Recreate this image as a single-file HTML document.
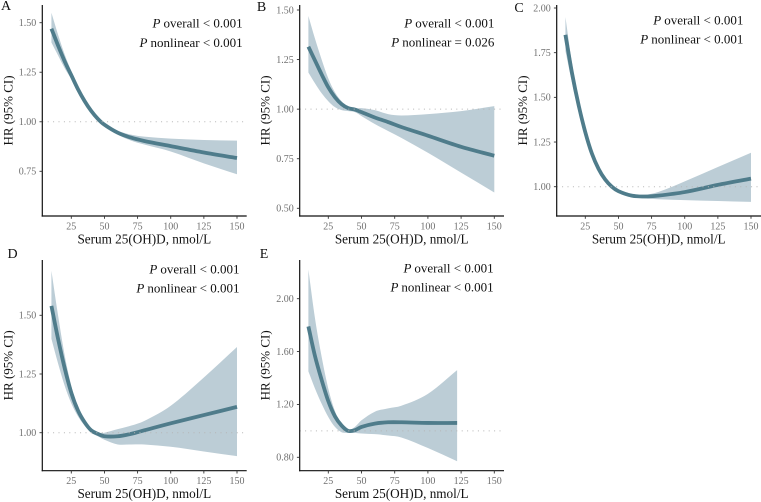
<!DOCTYPE html>
<html lang="en">
<head>
<meta charset="utf-8">
<title>Restricted cubic spline panels: HR by serum 25(OH)D</title>
<style>
  html, body { margin: 0; padding: 0; background: #fff; }
  body { width: 761px; height: 502px; overflow: hidden; }
  svg { display: block; }
  text { font-family: "Liberation Serif", serif; }
</style>
</head>
<body>
<svg id="figure" width="761" height="502" viewBox="0 0 761 502" xmlns="http://www.w3.org/2000/svg"></svg>
<script>
const xTicks = [25, 50, 75, 100, 125, 150];
const gridX = [10, 15, 20, 25, 30, 35, 40, 45, 50, 60, 70, 80, 100, 125, 150];
const gridXE = [10, 15, 20, 25, 30, 35, 40, 45, 50, 60, 70, 80, 100, 122];

const aTicks = ['1.50', '1.25', '1.00', '0.75'];
const aMean  = [1.47, 1.385, 1.305, 1.235, 1.165, 1.105, 1.055, 1.015, 0.985, 0.945, 0.92, 0.903, 0.877, 0.845, 0.817];
const aUpper = [1.55, 1.44, 1.34, 1.255, 1.175, 1.11, 1.06, 1.02, 0.99, 0.955, 0.935, 0.925, 0.915, 0.908, 0.905];
const aLower = [1.40, 1.335, 1.27, 1.215, 1.155, 1.10, 1.05, 1.01, 0.98, 0.935, 0.905, 0.885, 0.85, 0.79, 0.735];

const bTicks = ['1.50', '1.25', '1.00', '0.75', '0.50'];
const bMean  = [1.315, 1.245, 1.175, 1.11, 1.06, 1.025, 1.005, 0.998, 0.985, 0.958, 0.935, 0.91, 0.866, 0.81, 0.765];
const bUpper = [1.47, 1.355, 1.25, 1.155, 1.085, 1.04, 1.015, 1.005, 1.005, 0.995, 0.975, 0.968, 0.975, 0.99, 1.015];
const bLower = [1.185, 1.13, 1.08, 1.04, 1.01, 0.995, 0.99, 0.985, 0.965, 0.925, 0.89, 0.855, 0.78, 0.68, 0.58];

const cTicks = ['2.00', '1.75', '1.50', '1.25', '1.00'];
const cMean  = [1.85, 1.635, 1.455, 1.305, 1.185, 1.10, 1.04, 1.00, 0.975, 0.95, 0.945, 0.95, 0.97, 1.01, 1.045];
const cUpper = [1.95, 1.69, 1.485, 1.325, 1.195, 1.11, 1.05, 1.01, 0.985, 0.96, 0.955, 0.97, 1.03, 1.11, 1.19];
const cLower = [1.76, 1.58, 1.425, 1.285, 1.175, 1.09, 1.03, 0.99, 0.965, 0.94, 0.935, 0.93, 0.925, 0.92, 0.915];

const dTicks = ['1.50', '1.25', '1.00'];
const dMean  = [1.54, 1.40, 1.275, 1.17, 1.095, 1.045, 1.01, 0.995, 0.985, 0.985, 0.995, 1.01, 1.04, 1.075, 1.11];
const dUpper = [1.69, 1.50, 1.33, 1.20, 1.11, 1.05, 1.015, 1.00, 1.00, 1.015, 1.03, 1.05, 1.115, 1.235, 1.365];
const dLower = [1.40, 1.295, 1.20, 1.125, 1.07, 1.03, 1.00, 0.985, 0.97, 0.95, 0.95, 0.95, 0.94, 0.92, 0.90];

const eTicks = ['2.00', '1.60', '1.20', '0.80'];
const eMean  = [1.79, 1.565, 1.385, 1.225, 1.11, 1.04, 1.00, 1.005, 1.03, 1.055, 1.065, 1.065, 1.06, 1.06];
const eUpper = [2.22, 1.85, 1.56, 1.32, 1.15, 1.045, 1.005, 1.03, 1.08, 1.145, 1.17, 1.19, 1.28, 1.46];
const eLower = [1.45, 1.32, 1.205, 1.105, 1.03, 0.99, 0.985, 0.985, 0.98, 0.975, 0.965, 0.95, 0.87, 0.77];

const panels = [
  { id: 'a', letter: 'A', letterX: 6,   letterY: 10,  left: 42.3,  top: 5,   bottom: 216,   right: 246.7, x25: 71.3,  x150: 237,   tickTop: 22.7,  tickBottom: 171.3, ticks: aTicks, xs: gridX,  mean: aMean, upper: aUpper, lower: aLower, annX: 242.7, annY: 27.7, titleX: 12.5, nl: '< 0.001' },
  { id: 'b', letter: 'B', letterX: 261.5, letterY: 11, left: 299.7, top: 5,   bottom: 216,   right: 504,   x25: 328.3, x150: 494.3, tickTop: 10,    tickBottom: 208.3, ticks: bTicks, xs: gridX,  mean: bMean, upper: bUpper, lower: bLower, annX: 494.4, annY: 27.3, titleX: 269.5, nl: '= 0.026' },
  { id: 'c', letter: 'C', letterX: 519, letterY: 12,  left: 556.7, top: 5,   bottom: 216,   right: 761,   x25: 585.3, x150: 751,   tickTop: 8,     tickBottom: 186.7, ticks: cTicks, xs: gridX,  mean: cMean, upper: cUpper, lower: cLower, annX: 743.4, annY: 24.3, titleX: 527, nl: '< 0.001' },
  { id: 'd', letter: 'D', letterX: 12.5, letterY: 258, left: 42.3,  top: 260, bottom: 470.7, right: 246.7, x25: 71.3,  x150: 237,   tickTop: 315.3, tickBottom: 432.7, ticks: dTicks, xs: gridX,  mean: dMean, upper: dUpper, lower: dLower, annX: 239.5, annY: 273.3, titleX: 12.5, nl: '< 0.001' },
  { id: 'e', letter: 'E', letterX: 264, letterY: 258, left: 299.7, top: 260, bottom: 470.7, right: 504,   x25: 328.3, x150: 494.3, tickTop: 298.7, tickBottom: 457.3, ticks: eTicks, xs: gridXE, mean: eMean, upper: eUpper, lower: eLower, annX: 493.6, annY: 272.3, titleX: 269.5, nl: '< 0.001' }
];

const SVG_NS = 'http://www.w3.org/2000/svg';
const root = document.getElementById('figure');

function make(parent, tag, attrs, txt) {
  const el = document.createElementNS(SVG_NS, tag);
  for (const k in attrs) el.setAttribute(k, attrs[k]);
  if (txt !== undefined) el.textContent = txt;
  parent.appendChild(el);
  return el;
}

function smooth(pts, startWithMove) {
  let d = (startWithMove ? 'M' : 'L') + pts[0][0].toFixed(2) + ',' + pts[0][1].toFixed(2);
  for (let i = 0; i < pts.length - 1; i++) {
    const p0 = pts[Math.max(i - 1, 0)], p1 = pts[i], p2 = pts[i + 1], p3 = pts[Math.min(i + 2, pts.length - 1)];
    const h = p2[0] - p1[0];
    const m1 = (p2[1] - p0[1]) / (p2[0] - p0[0] || 1);
    const m2 = (p3[1] - p1[1]) / (p3[0] - p1[0] || 1);
    d += 'C' + (p1[0] + h / 3).toFixed(2) + ',' + (p1[1] + m1 * h / 3).toFixed(2) + ' ' +
         (p2[0] - h / 3).toFixed(2) + ',' + (p2[1] - m2 * h / 3).toFixed(2) + ' ' +
         p2[0].toFixed(2) + ',' + p2[1].toFixed(2);
  }
  return d;
}

panels.forEach(function (p) {
  const xScale = function (v) { return p.x25 + (v - 25) * (p.x150 - p.x25) / 125; };
  const vTop = parseFloat(p.ticks[0]);
  const vBottom = parseFloat(p.ticks[p.ticks.length - 1]);
  const yScale = function (v) { return p.tickTop + (vTop - v) * (p.tickBottom - p.tickTop) / (vTop - vBottom); };

  const g = make(root, 'g', {});
  
  

  const letter = make(g, 'text', { x: p.letterX, y: p.letterY, 'text-anchor': 'middle', 'font-size': 14, fill: '#111' }, p.letter);
  
  

  const upperPts = p.xs.map(function (x, i) { return [xScale(x), yScale(p.upper[i])]; });
  const lowerPts = p.xs.map(function (x, i) { return [xScale(x), yScale(p.lower[i])]; }).reverse();
  const ribbon = make(g, 'path', { d: smooth(upperPts, true) + smooth(lowerPts, false) + 'Z', fill: '#bccdd6', stroke: 'none' });
  
  

  const meanPts = p.xs.map(function (x, i) { return [xScale(x), yScale(p.mean[i])]; });
  const line = make(g, 'path', { d: smooth(meanPts, true), fill: 'none', stroke: '#4f7c8b', 'stroke-width': 3.8 });
  
  

  const ref = make(g, 'line', { x1: p.left, x2: p.right, y1: yScale(1), y2: yScale(1), stroke: '#b5b5b5', 'stroke-width': 1, 'stroke-dasharray': '1 4.4' });
  
  

  const yAxis = make(g, 'line', { x1: p.left, x2: p.left, y1: p.top, y2: p.bottom + 0.6, stroke: '#111', 'stroke-width': 1.2 });
  
  

  const xAxis = make(g, 'line', { x1: p.left - 0.6, x2: p.right, y1: p.bottom, y2: p.bottom, stroke: '#111', 'stroke-width': 1.2 });
  
  

  p.ticks.forEach(function (t) {
    const y = yScale(parseFloat(t));
    const mark = make(g, 'line', { x1: p.left - 2.8, x2: p.left, y1: y, y2: y, stroke: '#333', 'stroke-width': 0.9 });
    
    
    const label = make(g, 'text', { x: p.left - 6, y: y + 3.3, 'text-anchor': 'end', 'font-size': 10, fill: '#6f6f6f' }, t);
    
    
  });

  xTicks.forEach(function (t) {
    const x = xScale(t);
    const mark = make(g, 'line', { x1: x, x2: x, y1: p.bottom, y2: p.bottom + 2.8, stroke: '#333', 'stroke-width': 0.9 });
    
    
    const label = make(g, 'text', { x: x, y: p.bottom + 13.3, 'text-anchor': 'middle', 'font-size': 10, fill: '#6f6f6f' }, String(t));
    
    
  });

  const xTitle = make(g, 'text', { x: p.left + 102, y: p.bottom + 27.5, 'text-anchor': 'middle', 'font-size': 13.2, fill: '#111' }, 'Serum 25(OH)D, nmol/L');
  
  

  const cy = (p.top + p.bottom) / 2;
  const yTitle = make(g, 'text', { x: 0, y: 0, transform: 'translate(' + p.titleX + ',' + cy + ') rotate(-90)', 'text-anchor': 'middle', 'font-size': 13, fill: '#111' }, 'HR (95% CI)');
  
  

  const a1 = make(g, 'text', { x: p.annX, y: p.annY, 'text-anchor': 'end', 'font-size': 13, fill: '#111' });
  
  
  make(a1, 'tspan', { 'font-style': 'italic' }, 'P ');
  make(a1, 'tspan', {}, 'overall < 0.001');

  const a2 = make(g, 'text', { x: p.annX, y: p.annY + 19.2, 'text-anchor': 'end', 'font-size': 13, fill: '#111' });
  
  
  make(a2, 'tspan', { 'font-style': 'italic' }, 'P ');
  make(a2, 'tspan', {}, 'nonlinear ' + p.nl);
});
</script>
</body>
</html>
